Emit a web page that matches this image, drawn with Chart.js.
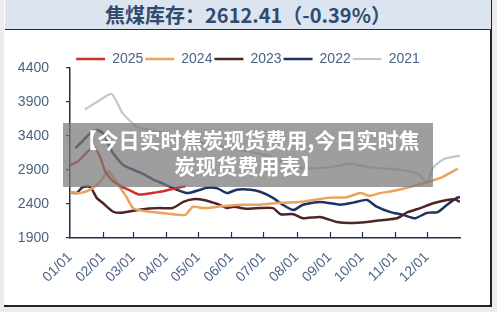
<!DOCTYPE html>
<html>
<head>
<meta charset="utf-8">
<script src="https://cdn.jsdelivr.net/npm/chart.js@4"></script>
<style>
  html, body { margin: 0; padding: 0; background: #ececec; }
  #wrap { position: relative; width: 497px; height: 312px; overflow: hidden; }
  #panel { position: absolute; left: 4px; top: 0; width: 486px; height: 305px; background: #fff;
           border-right: 2px solid #222; border-bottom: 2px solid #222; }
  #head { position: absolute; left: 5px; top: 0; width: 486px; height: 29px; background: #dce4f0;
          border-bottom: 1.5px solid #2a2a2a; text-align: center; line-height: 30px;
          font: bold 20px "Noto Sans CJK SC", sans-serif; color: #2f4b6e; }
  #chart { position: absolute; left: 0; top: 0; }
  #banner { position: absolute; left: 63px; top: 123px; width: 370px; height: 64px;
            background: rgba(120,120,120,0.72); color: #fff; text-align: center;
            font: bold 21px "Noto Sans CJK SC", sans-serif; line-height: 26px; padding-top: 3px; box-sizing: border-box; }
</style>
</head>
<body>
<div id="wrap">
  <div id="panel"></div>
  <div id="head">焦煤库存：2612.41（-0.39%）</div>
  <canvas id="chart" width="497" height="312"></canvas>
  <div id="banner">【今日实时焦炭现货费用,今日实时焦<br>炭现货费用表】</div>
</div>
<script>
document.addEventListener("DOMContentLoaded", function () {

    const colors = {
        y2025: '#d32f2b',
        y2024: '#eba25f',
        y2023: '#4d2623',
        y2022: '#1d3462',
        y2021: '#c6c6c6',
        axis: '#22304d',
        text: '#4a6384'
    };

    // x = day of year
    const monthTicks = [0, 31, 59, 90, 120, 151, 181, 212, 243, 273, 304, 334];
    const monthLabels = ['01/01', '02/01', '03/01', '04/01', '05/01', '06/01',
                         '07/01', '08/01', '09/01', '10/01', '11/01', '12/01'];
    const yTicks = [1900, 2400, 2900, 3400, 3900, 4400];

    const days2025 = [0, 7, 14, 22, 28, 33, 40, 48, 56, 64, 72, 80, 88, 96, 104, 108];
    const vals2025 = [2970, 3020, 3130, 3240, 3100, 2880, 2740, 2660, 2600, 2540, 2550, 2570, 2590, 2620, 2650, 2660];

    const days2024 = [0, 9, 19, 28, 36, 44, 53, 59, 68, 84, 96, 108, 115, 125, 138, 159, 178, 197, 215, 241, 259, 272, 280, 290, 302, 318, 334, 349, 363];
    const vals2024 = [2580, 2560, 2610, 2720, 2880, 2710, 2500, 2340, 2300, 2270, 2250, 2240, 2360, 2340, 2360, 2390, 2390, 2420, 2430, 2490, 2500, 2560, 2520, 2560, 2590, 2650, 2720, 2800, 2920];

    const days2023 = [0, 6, 12, 19, 25, 31, 40, 47, 59, 72, 84, 96, 106, 115, 125, 138, 147, 153, 165, 178, 190, 197, 209, 218, 234, 250, 262, 278, 293, 306, 316, 328, 340, 353, 360, 365];
    const vals2023 = [2580, 2560, 2650, 2650, 2490, 2410, 2290, 2270, 2300, 2330, 2340, 2340, 2430, 2470, 2460, 2400, 2340, 2360, 2330, 2340, 2340, 2250, 2250, 2190, 2210, 2135, 2120, 2135, 2165, 2190, 2280, 2340, 2410, 2460, 2470, 2430];

    const days2022 = [5, 12, 19, 25, 31, 39, 50, 66, 78, 84, 100, 110, 122, 128, 138, 147, 156, 169, 178, 190, 199, 209, 218, 234, 253, 265, 278, 287, 300, 312, 323, 334, 344, 353, 362, 365];
    const vals2022 = [3220, 3330, 3440, 3490, 3440, 3180, 2970, 2860, 2760, 2720, 2610, 2560, 2610, 2640, 2630, 2560, 2610, 2610, 2580, 2490, 2390, 2310, 2390, 2430, 2390, 2420, 2460, 2360, 2280, 2240, 2190, 2270, 2280, 2390, 2490, 2500];

    const days2021 = [14, 28, 39, 49, 63, 75, 84, 112, 150, 183, 215, 243, 262, 281, 309, 326, 334, 340, 350, 365];
    const vals2021 = [3790, 3930, 4020, 3740, 3530, 3490, 3460, 3340, 3220, 3120, 2930, 2940, 2990, 2940, 2900, 2840, 2720, 2940, 3060, 3110];

    function pts(days, vals) {
        return days.map((d, i) => ({ x: d, y: vals[i] }));
    }

    function series(label, days, vals, color, width) {
        return {
            label: label,
            data: pts(days, vals),
            borderColor: color,
            backgroundColor: color,
            borderWidth: width,
            pointRadius: 0,
            tension: 0.2,
            fill: false
        };
    }

    // short inward tick marks on the x axis
    const xInnerTicks = {
        id: 'xInnerTicks',
        afterDatasetsDraw(chart) {
            const x = chart.scales.x, ctx = chart.ctx;
            ctx.save();
            ctx.strokeStyle = colors.axis;
            ctx.lineWidth = 1.2;
            monthTicks.slice(1).forEach(v => {
                const px = Math.round(x.getPixelForValue(v)) + 0.5;
                ctx.beginPath();
                ctx.moveTo(px, chart.chartArea.bottom);
                ctx.lineTo(px, chart.chartArea.bottom - 6);
                ctx.stroke();
            });
            ctx.restore();
        }
    };

    // nudge the legend to where the original sits
    const legendShift = {
        id: 'legendShift',
        afterLayout(chart) {
            const lg = chart.legend;
            lg.left += 18; lg.right += 18;
            lg.top += 8; lg.bottom += 8;
        }
    };

    const ctx = document.getElementById('chart');
    new Chart(ctx, {
        type: 'line',
        data: {
            datasets: [
                series('2025', days2025, vals2025, colors.y2025, 2.5),
                series('2024', days2024, vals2024, colors.y2024, 2.5),
                series('2023', days2023, vals2023, colors.y2023, 2.5),
                series('2022', days2022, vals2022, colors.y2022, 2.5),
                series('2021', days2021, vals2021, colors.y2021, 2.2)
            ]
        },
        plugins: [xInnerTicks, legendShift],
        options: {
            responsive: false,
            animation: false,
            layout: { padding: { top: 42, right: 37, bottom: 14, left: 0 } },
            plugins: {
                legend: {
                    position: 'top',
                    labels: {
                        usePointStyle: true,
                        pointStyle: 'line',
                        pointStyleWidth: 29,
                        boxHeight: 14,
                        padding: 2,
                        color: colors.text,
                        font: { family: '"Liberation Sans", Arial, sans-serif', size: 14 }
                    }
                },
                tooltip: { enabled: false }
            },
            scales: {
                x: {
                    type: 'linear',
                    min: 0,
                    max: 365,
                    afterBuildTicks: function (scale) {
                        scale.ticks = monthTicks.map(v => ({ value: v }));
                    },
                    afterFit: function (scale) { scale.height = 60; },
                    ticks: {
                        autoSkip: false,
                        minRotation: 45,
                        maxRotation: 45,
                        padding: 11,
                        color: colors.text,
                        font: { family: '"Liberation Sans", Arial, sans-serif', size: 14 },
                        callback: function (value) {
                            return monthLabels[monthTicks.indexOf(value)];
                        }
                    },
                    grid: { display: false, drawTicks: false },
                    border: { display: true, color: colors.axis, width: 1.5 }
                },
                y: {
                    min: 1900,
                    max: 4400,
                    afterBuildTicks: function (scale) {
                        scale.ticks = yTicks.map(v => ({ value: v }));
                    },
                    afterFit: function (scale) { scale.width = 70; },
                    ticks: {
                        padding: 17,
                        color: colors.text,
                        font: { family: '"Liberation Sans", Arial, sans-serif', size: 14 },
                        callback: function (value) { return String(value); }
                    },
                    grid: { drawOnChartArea: false, drawTicks: true, tickLength: 4, color: colors.axis, lineWidth: 1.2 },
                    border: { display: true, color: colors.axis, width: 1.5 }
                }
            }
        }
    });
});
</script>
</body>
</html>
